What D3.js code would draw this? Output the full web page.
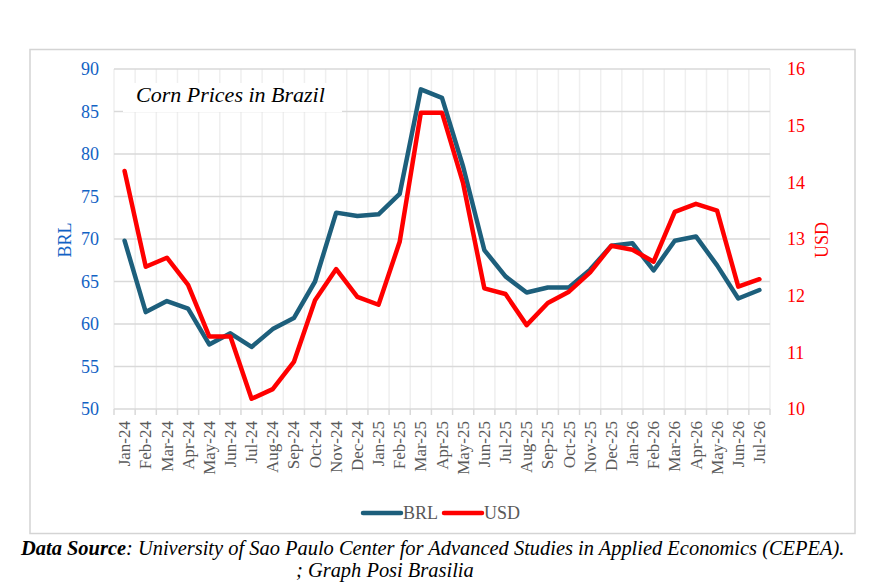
<!DOCTYPE html>
<html><head><meta charset="utf-8">
<script src="https://cdn.jsdelivr.net/npm/d3@7"></script>
<style>body{margin:0;background:#fff}svg{display:block}svg text{font-family:"Liberation Serif"}</style>
</head><body>
<svg id="c" width="877" height="582"></svg>
<script>
const months = ["Jan-24","Feb-24","Mar-24","Apr-24","May-24","Jun-24","Jul-24","Aug-24","Sep-24","Oct-24","Nov-24","Dec-24",
"Jan-25","Feb-25","Mar-25","Apr-25","May-25","Jun-25","Jul-25","Aug-25","Sep-25","Oct-25","Nov-25","Dec-25",
"Jan-26","Feb-26","Mar-26","Apr-26","May-26","Jun-26","Jul-26"];
const brl = [69.8,61.4,62.7,61.8,57.6,58.9,57.3,59.4,60.7,65.0,73.1,72.7,72.9,75.3,87.6,86.6,78.5,68.7,65.6,63.7,64.3,64.3,66.4,69.2,69.5,66.3,69.8,70.3,66.9,63.0,64.0];
const usd = [14.2,12.51,12.67,12.19,11.28,11.28,10.18,10.35,10.83,11.92,12.47,11.98,11.84,12.95,15.23,15.23,13.98,12.13,12.03,11.48,11.87,12.07,12.41,12.88,12.81,12.6,13.48,13.62,13.5,12.16,12.29];
const brlTicks = [50,55,60,65,70,75,80,85,90];
const usdTicks = [10,11,12,13,14,15,16];
const seriesNames = ["BRL","USD"];
const title = "Corn Prices in Brazil";

const svg = d3.select("#c");
const L = 114, R = 770, T = 69, B = 409;
const cBRL = "#1d5f7c", cUSD = "#ff0000", cBlue = "#1262c4";
function txt(sel){ return sel.style("font-family","\"Liberation Serif\""); }

// outer frame
svg.append("rect").attr("x",30).attr("y",49.5).attr("width",825).attr("height",484)
  .attr("fill","#fff").attr("stroke","#d4d4d4").attr("stroke-width",1.5);

const x = d3.scaleBand().domain(months).range([L,R]);
const yL = d3.scaleLinear().domain([50,90]).range([B,T]);
const yR = d3.scaleLinear().domain([10,16]).range([B,T]);

// vertical gridlines at category boundaries
const bounds = months.map(m=>x(m)).concat([R]);
svg.append("g").selectAll("line").data(bounds).join("line")
  .attr("x1",d=>d).attr("x2",d=>d).attr("y1",T).attr("y2",B)
  .attr("stroke","#efefef").attr("stroke-width",1.5);
// horizontal gridlines
svg.append("g").selectAll("line").data(brlTicks).join("line")
  .attr("x1",L).attr("x2",R).attr("y1",d=>yL(d)).attr("y2",d=>yL(d))
  .attr("stroke","#d9d9d9").attr("stroke-width",1.5);
// bottom tick marks
svg.append("g").selectAll("line").data(bounds).join("line")
  .attr("x1",d=>d).attr("x2",d=>d).attr("y1",B).attr("y2",B+6)
  .attr("stroke","#d9d9d9").attr("stroke-width",1.5);

// title box
svg.append("rect").attr("x",123).attr("y",83).attr("width",219).attr("height",29).attr("fill","#fff");
txt(svg.append("text").attr("x",136).attr("y",102).attr("font-style","italic")
  .attr("font-size",22).attr("fill","#000").text(title));

// left axis
const gl = svg.append("g").attr("transform",`translate(${L},0)`)
  .call(d3.axisLeft(yL).tickValues(brlTicks).tickSize(0).tickPadding(15));
gl.select(".domain").remove();
txt(gl.selectAll("text")).attr("font-size",18).attr("fill",cBlue);
// right axis
const gr = svg.append("g").attr("transform",`translate(${R},0)`)
  .call(d3.axisRight(yR).tickValues(usdTicks).tickFormat(d3.format("d")).tickSize(0).tickPadding(17));
gr.select(".domain").remove();
txt(gr.selectAll("text")).attr("font-size",18).attr("fill",cUSD);

// bottom axis labels
const gb = svg.append("g").attr("transform",`translate(0,${B})`)
  .call(d3.axisBottom(x).tickSize(0).tickPadding(0));
gb.select(".domain").remove();
txt(gb.selectAll("text")).attr("font-size",17).attr("fill","#595959")
  .attr("text-anchor","end").attr("dy","0.33em")
  .attr("transform","translate(0,12) rotate(-90)");

// axis titles
txt(svg.append("text").attr("transform","translate(71,240) rotate(-90)").attr("text-anchor","middle")
  .attr("font-size",18).attr("fill",cBlue).text("BRL"));
txt(svg.append("text").attr("transform","translate(828,240) rotate(-90)").attr("text-anchor","middle")
  .attr("font-size",18).attr("fill",cUSD).text("USD"));

// lines
const cx = d=>x(d)+x.bandwidth()/2;
svg.append("path").datum(brl).attr("fill","none").attr("stroke",cBRL).attr("stroke-width",4.5)
  .attr("stroke-linejoin","round").attr("stroke-linecap","round")
  .attr("d",d3.line().x((d,i)=>cx(months[i])).y(d=>yL(d)));
svg.append("path").datum(usd).attr("fill","none").attr("stroke",cUSD).attr("stroke-width",4.5)
  .attr("stroke-linejoin","round").attr("stroke-linecap","round")
  .attr("d",d3.line().x((d,i)=>cx(months[i])).y(d=>yR(d)));

// legend
const leg = [{n:seriesNames[0],c:cBRL,x:363},{n:seriesNames[1],c:cUSD,x:444}];
leg.forEach(l=>{
  svg.append("line").attr("x1",l.x).attr("x2",l.x+38).attr("y1",513).attr("y2",513)
    .attr("stroke",l.c).attr("stroke-width",4.5).attr("stroke-linecap","round");
  txt(svg.append("text").attr("x",l.x+40).attr("y",519).attr("font-size",18)
    .attr("fill","#595959").text(l.n));
});

// footer
const ft = txt(svg.append("text").attr("x",21).attr("y",555).attr("font-size",19)
  .attr("font-style","italic").attr("fill","#000"));
ft.append("tspan").attr("font-weight","bold").text("Data Source");
ft.append("tspan").text(": University of Sao Paulo Center for Advanced Studies in Applied Economics (CEPEA).");
const w = ft.node().getComputedTextLength();
if (w > 0) ft.attr("font-size", 19 * 824 / w);
txt(svg.append("text").attr("x",296).attr("y",577).attr("font-size", w>0 ? 19*824/w : 19)
  .attr("font-style","italic").attr("fill","#000").text("; Graph Posi Brasilia"));
</script>
</body></html>
